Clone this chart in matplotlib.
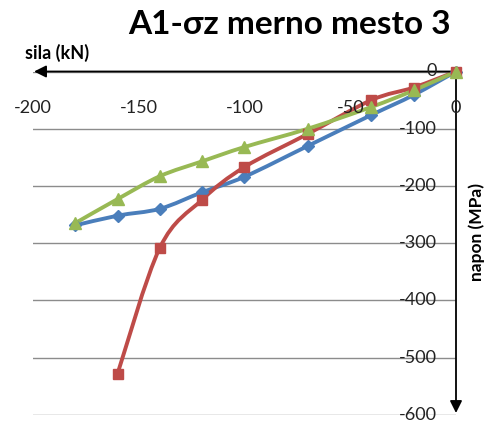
import numpy as np
import matplotlib.pyplot as plt
from matplotlib.path import Path
from matplotlib.patches import PathPatch

plt.rcParams['font.family'] = ['Lato', 'DejaVu Sans']

# data (sila kN, napon MPa)
sila_blue = [-180, -160, -140, -120, -100, -70, -40, -20, 0]
napon_blue = [-269, -252, -240, -211, -184, -130, -76, -41, 0]
sila_red = [-160, -140, -120, -100, -70, -40, -20, 0]
napon_red = [-528, -308, -224, -167, -109, -50, -28, 0]
sila_green = [-180, -160, -140, -120, -100, -70, -40, -20, 0]
napon_green = [-265, -223, -183, -157, -132, -100, -62, -33, 0]

x_ticks = [-200, -150, -100, -50, 0]
y_ticks = [0, -100, -200, -300, -400, -500, -600]

blue = '#4A7EBB'
red = '#BE4B48'
green = '#98B954'


def smooth_path(xs, ys):
    # catmull-rom style bezier, like excel smoothed lines
    p = np.column_stack([xs, ys]).astype(float)
    n = len(p)
    verts = [p[0]]
    codes = [Path.MOVETO]
    for i in range(n - 1):
        p0 = p[i - 1] if i > 0 else p[i]
        p1 = p[i]
        p2 = p[i + 1]
        p3 = p[i + 2] if i + 2 < n else p[i + 1]
        c1 = p1 + (p2 - p0) / 6.0
        c2 = p2 - (p3 - p1) / 6.0
        verts += [c1, c2, p2]
        codes += [Path.CURVE4] * 3
    return Path(verts, codes)


fig = plt.figure(figsize=(4.88, 4.21), dpi=100)
ax = fig.add_axes([33 / 488, 1 - 414.7 / 421, 423 / 488, 343.2 / 421])
ax.set_xlim(-200, 0)
ax.set_ylim(-600, 0)
for s in ax.spines.values():
    s.set_visible(False)
ax.set_xticks([])
ax.set_yticks(y_ticks)
ax.tick_params(axis='y', length=0, labelleft=False)
ax.yaxis.grid(True, color='#8C8C8C', linewidth=1.0)
ax.set_axisbelow(True)

for xs, ys, c, m, ms in [(sila_blue, napon_blue, blue, 'D', 6),
                         (sila_red, napon_red, red, 's', 7.5),
                         (sila_green, napon_green, green, '^', 8.5)]:
    ax.add_patch(PathPatch(smooth_path(xs, ys), fill=False, edgecolor=c,
                           linewidth=2.8, capstyle='round', joinstyle='round',
                           clip_on=False, zorder=3))
    ax.plot(xs, ys, linestyle='none', marker=m, markersize=ms, color=c,
            markeredgecolor=c, clip_on=False, zorder=4)

# axis arrows
ax.annotate('', xy=(-199.5, 0), xytext=(0, 0), annotation_clip=False,
            arrowprops=dict(arrowstyle='-|>', color='black', lw=1.3,
                            mutation_scale=18, shrinkA=0, shrinkB=0))
ax.annotate('', xy=(0, -597), xytext=(0, 0), annotation_clip=False,
            arrowprops=dict(arrowstyle='-|>', color='black', lw=1.3,
                            mutation_scale=18, shrinkA=0, shrinkB=0))

for xt in x_ticks:
    ax.text(xt, -64, str(xt), ha='center', va='center', fontsize=13,
            color='#222222')
for yt in y_ticks:
    ax.text(-9, yt, str(yt), ha='right', va='center', fontsize=13,
            color='#222222')

fig.text(290 / 488, 1 - 24 / 421, 'A1-σz merno mesto 3', ha='center',
         va='center', fontsize=24, fontweight='bold')
fig.text(57 / 488, 1 - 53 / 421, 'sila (kN)', ha='center', va='center',
         fontsize=13, fontweight='bold')
fig.text(477 / 488, 1 - 232 / 421, 'napon (MPa)', ha='center', va='center',
         fontsize=12.5, fontweight='bold', rotation=90)

fig.savefig('out.png', dpi=100)
